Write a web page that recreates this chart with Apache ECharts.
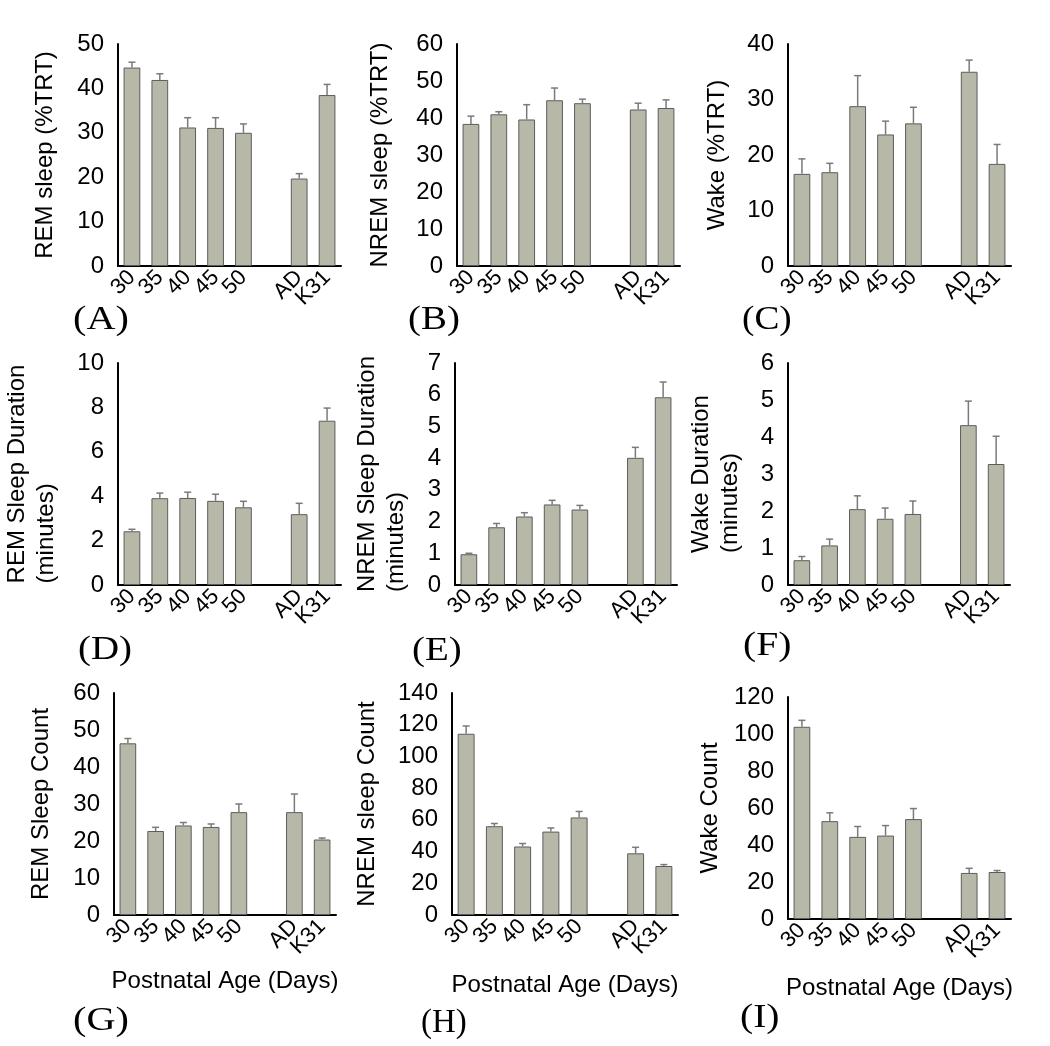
<!DOCTYPE html>
<html><head><meta charset="utf-8">
<script src="https://cdn.jsdelivr.net/npm/echarts@6/dist/echarts.min.js"></script>
<style>html,body{margin:0;padding:0;background:#fff}#c{width:1050px;height:1046px}</style>
</head><body><div id="c"></div>
<script>
// ---- data ----
const categories = ['30', '35', '40', '45', '50', '', 'AD', 'K31'];

const remPct      = [44.7, 41.9, 31.2, 31.1, 30.0, null, 19.7, 38.5];
const remPctSem   = [1.2, 1.4, 2.2, 2.3, 2.0, null, 1.1, 2.4];
const nremPct     = [38.4, 41.0, 39.6, 44.8, 44.0, null, 42.3, 42.7];
const nremPctSem  = [2.1, 0.7, 4.0, 3.3, 1.1, null, 1.7, 2.2];
const wakePct     = [16.6, 16.9, 28.8, 23.7, 25.7, null, 35.0, 18.4];
const wakePctSem  = [2.7, 1.6, 5.5, 2.4, 2.9, null, 2.1, 3.5];

const remDur      = [2.42, 3.91, 3.92, 3.79, 3.50, null, 3.19, 7.40];
const remDurSem   = [0.09, 0.23, 0.26, 0.30, 0.27, null, 0.49, 0.57];
const nremDur     = [0.97, 1.82, 2.16, 2.54, 2.38, null, 4.01, 5.92];
const nremDurSem  = [0.03, 0.12, 0.12, 0.13, 0.13, null, 0.33, 0.48];
const wakeDur     = [0.67, 1.07, 2.05, 1.79, 1.92, null, 4.32, 3.27];
const wakeDurSem  = [0.10, 0.17, 0.36, 0.29, 0.35, null, 0.65, 0.75];

const remCount     = [46.4, 22.7, 24.2, 23.8, 27.8, null, 27.8, 20.4];
const remCountSem  = [1.3, 1.0, 0.8, 0.8, 2.2, null, 4.9, 0.4];
const nremCount    = [114.3, 56.0, 43.2, 52.6, 61.5, null, 38.9, 30.9];
const nremCountSem = [4.9, 1.7, 1.9, 2.3, 3.8, null, 3.8, 0.9];
const wakeCount    = [103.9, 52.9, 44.4, 45.1, 54.0, null, 24.9, 25.4];
const wakeCountSem = [3.5, 4.5, 5.6, 5.4, 5.7, null, 2.5, 0.8];

const yNames = ['REM sleep (%TRT)', 'NREM sleep (%TRT)', 'Wake (%TRT)',
  '{a|REM Sleep Duration}\n{a|(minutes)}', '{a|NREM Sleep Duration}\n{a|(minutes)}', '{a|Wake Duration}\n{a|(minutes)}',
  'REM Sleep Count', 'NREM sleep Count', 'Wake Count'];
const xName = 'Postnatal Age (Days)';
const panelLetters = ['(A)', '(B)', '(C)', '(D)', '(E)', '(F)', '(G)', '(H)', '(I)'];
const yMax = [50, 60, 40, 10, 7, 6, 60, 140, 120];
const yStep = [10, 10, 10, 2, 1, 1, 10, 20, 20];

// ---- layout ----
const values = [remPct, nremPct, wakePct, remDur, nremDur, wakeDur, remCount, nremCount, wakeCount];
const sems = [remPctSem, nremPctSem, wakePctSem, remDurSem, nremDurSem, wakeDurSem, remCountSem, nremCountSem, wakeCountSem];
const grids = [
  [118, 44, 223, 222], [457, 44, 223, 222], [788, 44, 223, 222],
  [118, 363, 223, 222], [455, 363, 222, 222], [788, 363, 222, 222],
  [114, 693, 222, 222], [452, 693, 226, 222], [788, 697, 223, 222]
];
const nameGaps = [61, 65, 59, 57, 44, 43, 61, 73, 66];
const letterPos = [
  [73, 304, 1.22], [408, 304, 1.18], [742, 304, 1.13],
  [78, 634, 1.18], [412, 635, 1.18], [743, 630, 1.2],
  [73, 1005, 1.22], [421, 1007, 1.0], [740, 1002, 1.2]
];
const xNameGaps = [0, 0, 0, 0, 0, 0, 54, 58, 57];

const FONT = '"Liberation Sans", Arial, sans-serif';
const BAR = '#b8b8a9';

const option = {
  animation: false,
  backgroundColor: '#fff',
  textStyle: { fontFamily: FONT, color: '#000' },
  grid: [], xAxis: [], yAxis: [], series: [], graphic: []
};

for (let i = 0; i < 9; i++) {
  const g = grids[i];
  option.grid.push({ left: g[0], top: g[1], width: g[2], height: g[3], containLabel: false });
  const xa = {
    gridIndex: i, type: 'category', data: categories,
    boundaryGap: true,
    axisTick: { show: false },
    axisLine: { lineStyle: { color: '#000', width: 2 } },
    axisLabel: { rotate: 45, fontSize: 22, fontFamily: FONT, color: '#000', margin: 8, interval: 0 },
    splitLine: { show: false }
  };
  if (i >= 6) {
    xa.name = xName; xa.nameLocation = 'middle'; xa.nameGap = xNameGaps[i];
    xa.nameTextStyle = { fontSize: 24, fontFamily: FONT, color: '#000' };
  }
  option.xAxis.push(xa);
  const multi = yNames[i].indexOf('\n') >= 0;
  option.yAxis.push({
    gridIndex: i, type: 'value', min: 0, max: yMax[i], interval: yStep[i],
    axisLine: { show: true, lineStyle: { color: '#000', width: 2 } },
    axisTick: { show: false },
    splitLine: { show: false },
    axisLabel: { fontSize: 24, fontFamily: FONT, color: '#000', margin: 14 },
    name: yNames[i], nameLocation: 'middle', nameGap: nameGaps[i],
    nameTextStyle: multi
      ? { fontSize: 24, lineHeight: 29, fontFamily: FONT, color: '#000',
          rich: { a: { align: 'left', fontSize: 24, lineHeight: 29, fontFamily: FONT, color: '#000' } } }
      : { fontSize: 24, fontFamily: FONT, color: '#000' }
  });
  option.series.push({
    type: 'bar', xAxisIndex: i, yAxisIndex: i,
    data: values[i].map(v => v == null ? '-' : v),
    barCategoryGap: '40%',
    itemStyle: { color: BAR, borderColor: '#5c5c5c', borderWidth: 1 },
    z: 2
  });
  const errData = [];
  values[i].forEach((v, k) => { if (v != null) errData.push([k, v, sems[i][k]]); });
  option.series.push({
    type: 'custom', xAxisIndex: i, yAxisIndex: i,
    data: errData, z: 3,
    encode: { x: 0, y: 1 },
    renderItem: function (params, api) {
      const x = api.value(0), v = api.value(1), e = api.value(2);
      const p0 = api.coord([x, v]);
      const p1 = api.coord([x, v + e]);
      const st = { stroke: '#7a7a7a', lineWidth: 1.5 };
      return {
        type: 'group',
        children: [
          { type: 'line', shape: { x1: p0[0], y1: p0[1], x2: p1[0], y2: p1[1] }, style: st },
          { type: 'line', shape: { x1: p1[0] - 3.5, y1: p1[1], x2: p1[0] + 3.5, y2: p1[1] }, style: st }
        ]
      };
    }
  });
  const lp = letterPos[i];
  option.graphic.push({
    type: 'text', x: lp[0], y: lp[1], scaleX: lp[2],
    style: { text: panelLetters[i], font: '33px "Liberation Serif", "Times New Roman", serif', fill: '#000', verticalAlign: 'top' }
  });
}

const chart = echarts.init(document.getElementById('c'), null, { renderer: 'canvas' });
chart.setOption(option);
</script>
</body></html>
